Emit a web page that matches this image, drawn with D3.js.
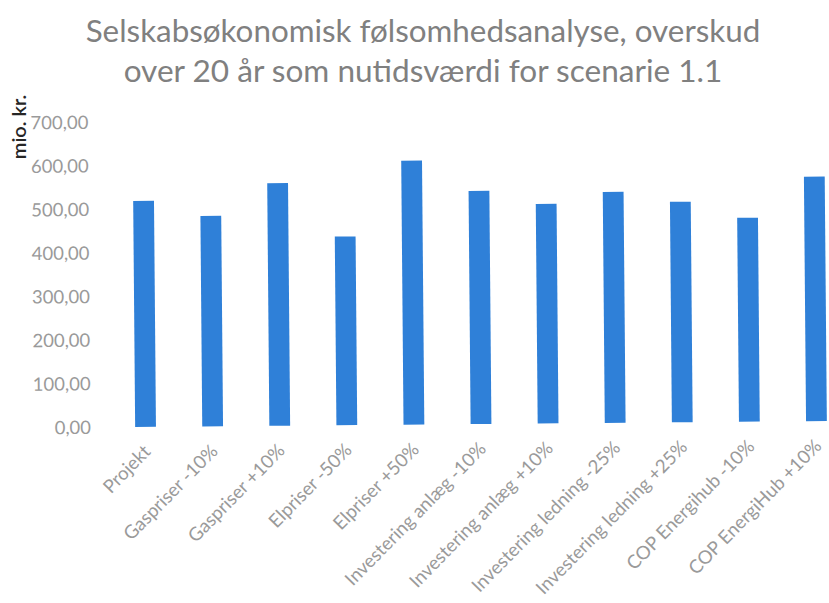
<!DOCTYPE html>
<html>
<head>
<meta charset="utf-8">
<script src="https://cdn.jsdelivr.net/npm/d3@7"></script>
<style>
  html, body { margin: 0; padding: 0; background: #fff; }
  svg { display: block; }
</style>
</head>
<body>
<script>
const titleLines = ["Selskabsøkonomisk følsomhedsanalyse, overskud", "over 20 år som nutidsværdi for scenarie 1.1"];
const yAxisTitle = "mio. kr.";
const categories = ["Projekt", "Gaspriser -10%", "Gaspriser +10%", "Elpriser -50%", "Elpriser +50%",
  "Investering anlæg -10%", "Investering anlæg +10%", "Investering ledning -25%", "Investering ledning +25%",
  "COP Energihub -10%", "COP EnergiHub +10%"];
const values = [519, 483, 557, 433, 606, 535, 504, 530, 506, 468, 561];
const yTicks = [0, 100, 200, 300, 400, 500, 600, 700];

const W = 829, H = 603;
const svg = d3.select("body").append("svg").attr("width", W).attr("height", H);
const font = "Lato, 'Open Sans', sans-serif";

// title
const title = svg.append("g");
const tl = [{t: titleLines[0], y: 42, w: 675}, {t: titleLines[1], y: 82, w: 599}];
tl.forEach(d => {
  const t = title.append("text").attr("x", 423).attr("y", d.y)
    .attr("text-anchor", "middle").attr("fill", "#808080")
    .style("font-family", font).style("font-size", "28px").text(d.t);
  const len = t.node().getComputedTextLength();
  t.style("font-size", (28 * d.w / len) + "px");
});

// plot
const x = d3.scaleBand().domain(categories).range([112, 850]).paddingInner(0.69).paddingOuter(0.345);
const y = d3.scaleLinear().domain([0, 700]).range([424, 119]);

const g = svg.append("g").attr("transform", "rotate(-0.5, 480, 424)");

const yAxis = d3.axisLeft(y).tickValues(yTicks).tickSize(0).tickPadding(0)
  .tickFormat(d => d3.format(".2f")(d).replace(".", ","));
const ya = g.append("g").attr("transform", "translate(91,0)").call(yAxis);
ya.select(".domain").remove();
ya.selectAll("text").attr("fill", "#9a9a9a").style("font-family", font).style("font-size", "18.5px");

g.selectAll("rect.bar").data(values).join("rect").attr("class", "bar")
  .attr("x", (d, i) => x(categories[i]))
  .attr("width", x.bandwidth())
  .attr("y", d => y(d))
  .attr("height", d => y(0) - y(d))
  .attr("fill", "#2f80d8");

const xa = g.append("g");
xa.selectAll("text").data(categories).join("text")
  .attr("transform", d => `translate(${x(d) + x.bandwidth() / 2 + 6},${y(0) + 26}) rotate(-45)`)
  .attr("text-anchor", "end")
  .attr("fill", "#9a9a9a").style("font-family", font).style("font-size", "18.6px")
  .text(d => d);

// y axis title
svg.append("text").attr("transform", "translate(26,127) rotate(-90)")
  .attr("text-anchor", "middle").attr("fill", "#262626")
  .style("font-family", font).style("font-size", "20px").style("font-weight", "600")
  .text(yAxisTitle);
</script>
</body>
</html>
